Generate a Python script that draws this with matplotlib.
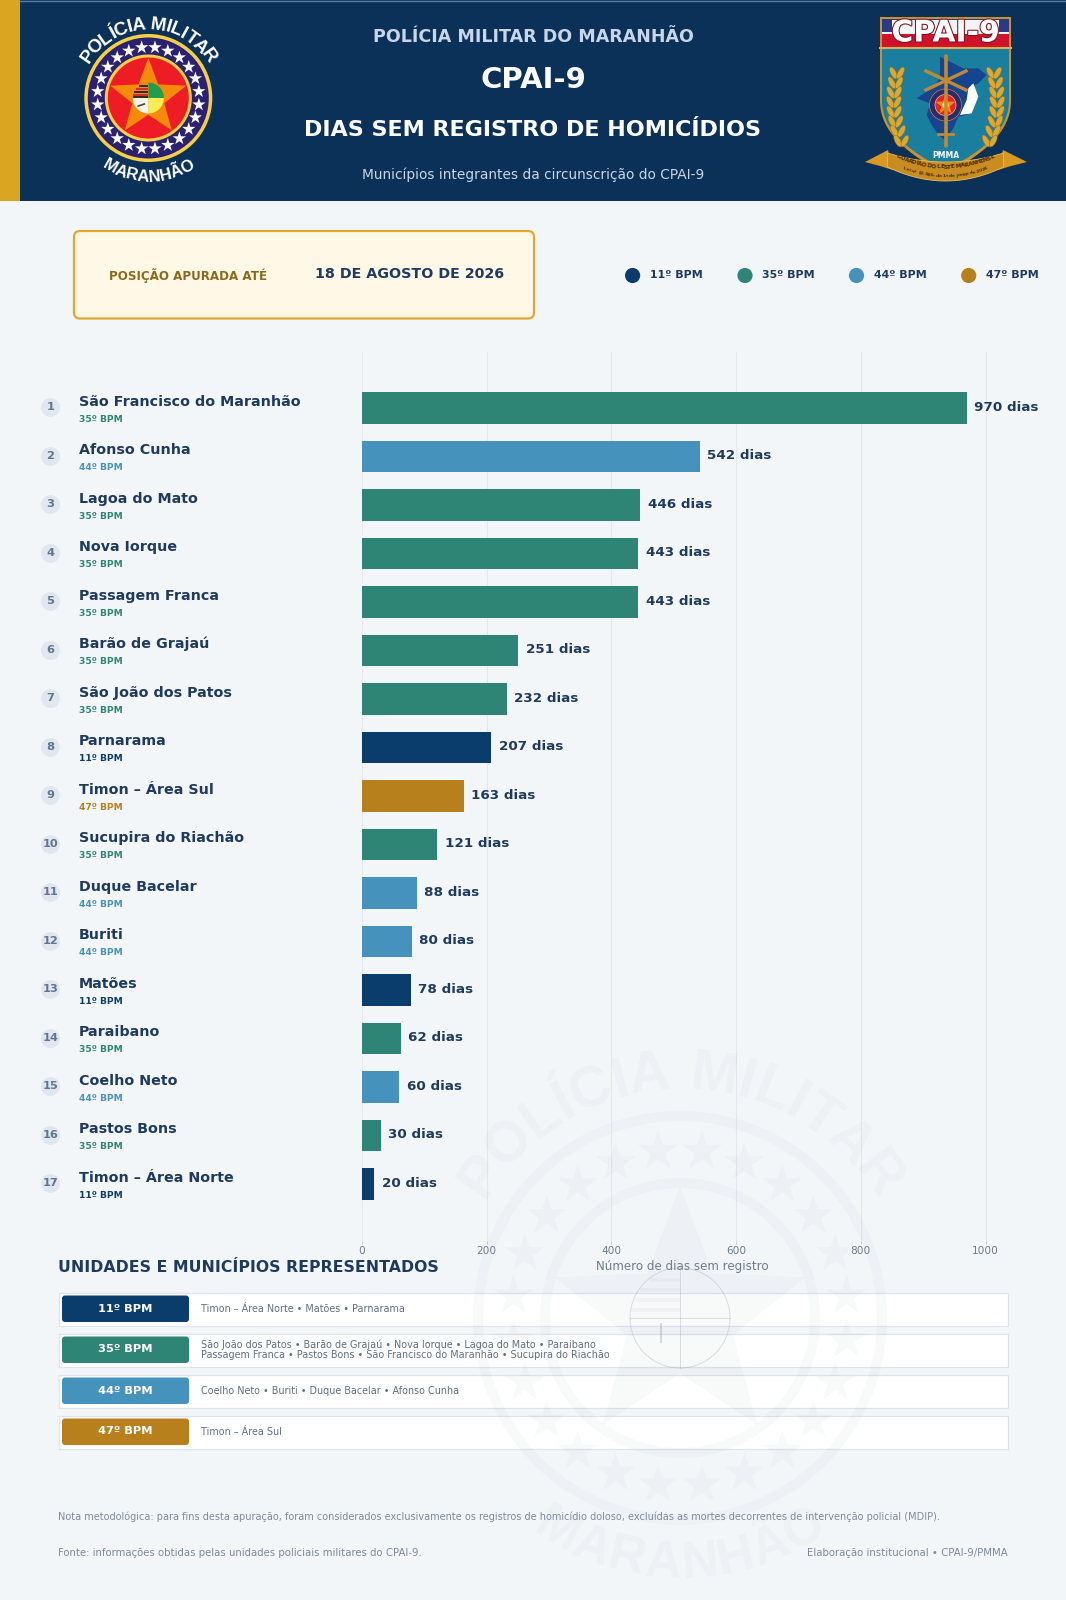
import numpy as np
import matplotlib
matplotlib.use("Agg")
import matplotlib.pyplot as plt
from matplotlib.patches import Circle, Polygon, Rectangle, FancyBboxPatch, Wedge, Ellipse
from matplotlib.font_manager import FontProperties
from matplotlib.transforms import blended_transform_factory
import matplotlib.patheffects as pe

plt.rcParams['font.family'] = ['DejaVu Sans']

# ---------- data ----------
cities = ["São Francisco do Maranhão", "Afonso Cunha", "Lagoa do Mato", "Nova Iorque",
          "Passagem Franca", "Barão de Grajaú", "São João dos Patos", "Parnarama",
          "Timon – Área Sul", "Sucupira do Riachão", "Duque Bacelar", "Buriti",
          "Matões", "Paraibano", "Coelho Neto", "Pastos Bons", "Timon – Área Norte"]
days = [970, 542, 446, 443, 443, 251, 232, 207, 163, 121, 88, 80, 78, 62, 60, 30, 20]
units = ["35º BPM", "44º BPM", "35º BPM", "35º BPM", "35º BPM", "35º BPM", "35º BPM", "11º BPM",
         "47º BPM", "35º BPM", "44º BPM", "44º BPM", "11º BPM", "35º BPM", "44º BPM", "35º BPM", "11º BPM"]
unit_names = ["11º BPM", "35º BPM", "44º BPM", "47º BPM"]
unit_colors = ["#0a3d6b", "#2e8575", "#4593bd", "#b8801c"]
unit_towns = ["Timon – Área Norte • Matões • Parnarama",
              "São João dos Patos • Barão de Grajaú • Nova Iorque • Lagoa do Mato • Paraibano\n"
              "Passagem Franca • Pastos Bons • São Francisco do Maranhão • Sucupira do Riachão",
              "Coelho Neto • Buriti • Duque Bacelar • Afonso Cunha",
              "Timon – Área Sul"]
x_ticks = [0, 200, 400, 600, 800, 1000]

W, H = 1066, 1600
BG = "#f3f6f9"
NAVY = "#0b3159"
INK = "#1f3a5f"
GOLD = "#daa520"
color_of = dict(zip(unit_names, unit_colors))

fig = plt.figure(figsize=(W / 100, H / 100), dpi=100, facecolor=BG)


def pixel_axes(z):
    a = fig.add_axes([0, 0, 1, 1], zorder=z)
    a.set_xlim(0, W)
    a.set_ylim(H, 0)
    a.axis("off")
    a.patch.set_alpha(0)
    return a


bg = pixel_axes(0)
wm = pixel_axes(5)
renderer = fig.canvas.get_renderer()


def star(a, cx, cy, R, r_ratio=0.382, rot=0.0, **kw):
    ang = np.deg2rad(-90 + rot + np.arange(10) * 36)
    rad = np.where(np.arange(10) % 2 == 0, R, R * r_ratio)
    a.add_patch(Polygon(np.c_[cx + rad * np.cos(ang), cy + rad * np.sin(ang)], closed=True, **kw))


def arc_text(a, s, cx, cy, R, half, fs, top=True, family="DejaVu Sans", **kw):
    fp = FontProperties(family=family, size=fs, weight=kw.get("weight", "normal"))
    adv = []
    for c in s:
        if c == " ":
            adv.append(0.55 * renderer.get_text_width_height_descent("n", fp, False)[0])
        else:
            adv.append(renderer.get_text_width_height_descent(c, fp, False)[0] + 0.06 * fs)
    adv = np.array(adv, dtype=float)
    pos = (np.cumsum(adv) - adv / 2) / adv.sum()
    for c, p in zip(s, pos):
        if c == " ":
            continue
        if top:
            th = 90 + half - 2 * half * p
            rot = th - 90
        else:
            th = 270 - half + 2 * half * p
            rot = th - 270
        t = np.deg2rad(th)
        a.text(cx + R * np.cos(t), cy - R * np.sin(t), c, fontsize=fs, rotation=rot, family=family,
               rotation_mode="anchor", ha="center", va="center", **kw)


def ring(a, cx, cy, r_out, r_in, **kw):
    a.add_patch(Wedge((cx, cy), r_out, 0, 360, width=r_out - r_in, **kw))


def quadrant(a, cx, cy, r, t1, t2, **kw):
    # angles measured on screen, counter-clockwise from east
    t = np.deg2rad(np.linspace(t1, t2, 30))
    pts = np.r_[[[cx, cy]], np.c_[cx + r * np.cos(t), cy - r * np.sin(t)]]
    a.add_patch(Polygon(pts, closed=True, **kw))


def emblem_colour(a, cx, cy):
    a.add_patch(Circle((cx, cy), 64, fc="#f6cf45", ec="none"))
    a.add_patch(Circle((cx, cy), 60.5, fc="#2a2270", ec="none"))
    for k in range(24):
        t = np.deg2rad(7.5 + k * 15)
        star(a, cx + 51 * np.cos(t), cy + 51 * np.sin(t), 7.0, fc="white", ec="none")
    a.add_patch(Circle((cx, cy), 43.5, fc="#f6cf45", ec="none"))
    a.add_patch(Circle((cx, cy), 40.5, fc="#ee1c25", ec="none"))
    star(a, cx, cy, 40, r_ratio=0.42, fc="#f58a0b", ec="none")
    r = 15.5
    quadrant(a, cx, cy, r, 0, 90, fc="#1f9e4b", ec="none")
    quadrant(a, cx, cy, r, 270, 360, fc="#f7ee55", ec="none")
    quadrant(a, cx, cy, r, 180, 270, fc="#f7f3e6", ec="none")
    quadrant(a, cx, cy, r, 90, 180, fc="#e8891e", ec="none")
    for dy, col in zip([12.5, 9.5, 6.5, 3.5, 1], ["#222222", "#d3262b", "#222222", "#d3262b", "#222222"]):
        half = np.sqrt(max(r * r - dy * dy, 0))
        a.plot([cx - half, cx], [cy - dy, cy - dy], color=col, lw=1.3, solid_capstyle="butt")
    a.plot([cx - 10, cx - 4], [cy + 8, cy + 6], color="#444444", lw=1.2)
    arc_text(a, "POLÍCIA MILITAR", cx, cy, 73, 60, 13.5, top=True, family="Liberation Sans", color="white", weight="bold")
    arc_text(a, "MARANHÃO", cx, cy, 79, 34, 12, top=False, family="Liberation Sans", color="white", weight="bold")


def emblem_ghost(a, cx, cy):
    c = "#8f9aa6"
    al = 0.06
    ring(a, cx, cy, 207, 197, fc=c, ec="none", alpha=al)
    ring(a, cx, cy, 140, 130, fc=c, ec="none", alpha=al)
    for k in range(24):
        t = np.deg2rad(7.5 + k * 15)
        star(a, cx + 168 * np.cos(t), cy + 168 * np.sin(t), 21, fc=c, ec="none", alpha=al)
    star(a, cx, cy, 132, r_ratio=0.42, fc=c, ec="none", alpha=al)
    r = 50
    a.add_patch(Circle((cx, cy), r, fc="none", ec=c, lw=0.7, alpha=0.3))
    a.plot([cx, cx], [cy - r, cy + r], color=c, lw=0.7, alpha=0.3)
    a.plot([cx - r, cx + r], [cy, cy], color=c, lw=0.7, alpha=0.3)
    for dy in [40, 30, 20, 10]:
        half = np.sqrt(r * r - dy * dy)
        a.add_patch(Rectangle((cx - half, cy - dy), half, 4, fc=c, ec="none", alpha=0.07))
    a.plot([cx - 19, cx - 19], [cy + 6, cy + 24], color=c, lw=1.4, alpha=0.35)
    arc_text(a, "POLÍCIA MILITAR", cx, cy, 244, 59, 41, top=True, family="Liberation Sans", color=c, alpha=0.06, weight="bold")
    arc_text(a, "MARANHÃO", cx, cy, 246, 35, 37, top=False, family="Liberation Sans", color=c, alpha=0.06, weight="bold")


def shield(a):
    L, Rr, T = 880, 1011, 17
    mid = (L + Rr) / 2
    t = np.linspace(0, 1, 30)
    right = np.c_[Rr - (Rr - mid) * t ** 2.2, 100 + (174 - 100) * t]
    left = right[::-1].copy()
    left[:, 0] = 2 * mid - left[:, 0]
    pts = np.r_[[[L, T], [Rr, T]], right, left]
    a.add_patch(Polygon(pts, closed=True, fc="#c9922e", ec="none"))
    k = 2.0
    right2 = np.c_[Rr - k - (Rr - k - mid) * t ** 2.2, 100 + (170 - 100) * t]
    left2 = right2[::-1].copy()
    left2[:, 0] = 2 * mid - left2[:, 0]
    a.add_patch(Polygon(np.r_[[[L + k, T + k], [Rr - k, T + k]], right2, left2], closed=True,
                        fc="#1a7f9f", ec="none"))
    a.add_patch(Rectangle((L + k, T + k), Rr - L - 2 * k, 15, fc="#2b3a86", ec="none"))
    a.add_patch(Rectangle((L + k, T + 15), Rr - L - 2 * k, 2.5, fc="#f4f4f4", ec="none"))
    a.add_patch(Rectangle((L + k, T + 17), Rr - L - 2 * k, 13, fc="#d0122a", ec="none"))
    a.add_patch(Rectangle((L + k + 10, T + 3), Rr - L - 2 * k - 20, 14, fc="#f4f4f4", ec="none"))
    a.plot([L, Rr], [T + 30.5, T + 30.5], color="#e0b050", lw=1.5)
    a.text(mid, T + 16, "CPAI-9", color="white", fontsize=21.5, fontweight="bold", ha="center", va="center",
           path_effects=[pe.withStroke(linewidth=1.5, foreground="#7a1020")])
    # state map
    mp = np.array([[270, 170], [340, 205], [385, 205], [410, 225], [385, 250], [360, 265], [385, 290],
                   [350, 345], [325, 350], [310, 385], [285, 420], [265, 405], [245, 375], [230, 345],
                   [240, 310], [200, 295], [250, 260], [270, 235]], dtype=float)
    a.add_patch(Polygon(np.c_[850 + mp[:, 0] / 3, mp[:, 1] / 3], closed=True, fc="#16448f", ec="none"))
    wh = np.array([[370, 250], [385, 290], [365, 340], [330, 345], [350, 300], [355, 265]], dtype=float)
    a.add_patch(Polygon(np.c_[850 + wh[:, 0] / 3, wh[:, 1] / 3], closed=True, fc="white", ec="none"))
    gold = "#c08a35"
    a.plot([945.5, 945.5], [56, 146], color=gold, lw=2.6, solid_capstyle="round")
    a.plot([938, 953], [134, 134], color=gold, lw=2)
    a.plot([926, 966], [71, 90], color=gold, lw=2.4)
    a.plot([966, 926], [71, 90], color=gold, lw=2.4)
    a.add_patch(Circle((945.5, 105), 16, fc="#2b2a70", ec="#c08a35", lw=0.5))
    a.add_patch(Circle((945.5, 105), 10.5, fc="#e8202a", ec="#f0d060", lw=0.5))
    star(a, 945.5, 105, 10.5, r_ratio=0.42, fc="#f58a0b", ec="none")
    a.add_patch(Circle((945.5, 105), 3.2, fc="#dfe9a0", ec="none"))
    # laurels
    for sgn in (-1, 1):
        for j in range(8):
            f = j / 7
            yy = 72 + 68 * f
            xx = 945.5 + sgn * (48.5 + 8 * np.sin(np.pi * f * 0.8) - 9 * f)
            for side in (-1, 1):
                a.add_patch(Ellipse((xx + side * 3.6, yy + 1), 5.5, 13,
                                    angle=side * 28, fc="#dca832", ec="#8f6a1c", lw=0.3))
    # ribbon
    rt = np.linspace(-1, 1, 40)
    a.add_patch(Polygon([[865, 162], [888, 150], [893, 170], [880, 166]], closed=True, fc="#d89a22", ec="none"))
    a.add_patch(Polygon([[1027, 162], [1003, 150], [998, 170], [1011, 166]], closed=True, fc="#d89a22", ec="none"))
    xs = 945.5 + 58 * rt
    up = 153 + 9 * (1 - rt ** 2)
    lo = 167 + 14 * (1 - rt ** 2)
    a.add_patch(Polygon(np.r_[np.c_[xs, up], np.c_[xs[::-1], lo[::-1]]], closed=True, fc="#c98c20",
                        ec="#e7bd5a", lw=0.6))
    a.text(946, 156, "PMMA", color="white", fontsize=5.5, fontweight="bold", ha="center", va="center")
    arc_text(a, "GUARDIÃO DO LESTE MARANHENSE", 945.5, 52, 115, 25, 4.2, top=False, color="#4a2c06", weight="bold")
    arc_text(a, "Lei nº 12.885, de 1º de junho de 2026", 945.5, 59, 117, 21, 3.2, top=False, color="#4a2c06", weight="bold")


# ---------- header ----------
bg.add_patch(Rectangle((0, 0), W, 200.5, fc=NAVY, ec="none"))
bg.add_patch(Rectangle((0, 0), 20, 200.5, fc=GOLD, ec="none"))
bg.plot([20, W], [0.5, 0.5], color="#5b7ea3", lw=1)
hx = 533
bg.text(hx, 36.5, "POLÍCIA MILITAR DO MARANHÃO", color="#c8d6e8", fontsize=12.6, fontweight="bold", ha="center", va="center")
bg.text(hx, 79.5, "CPAI-9", color="white", fontsize=21, fontweight="bold", ha="center", va="center")
bg.text(hx, 130, "DIAS SEM REGISTRO DE HOMICÍDIOS", color="white", fontsize=16, fontweight="bold", ha="center", va="center")
bg.text(hx, 175, "Municípios integrantes da circunscrição do CPAI-9", color="#c8d6e8", fontsize=9.95, ha="center", va="center")
emblem_colour(bg, 148.3, 98)
shield(bg)

# ---------- date card and legend ----------
bg.add_patch(FancyBboxPatch((74, 231), 460, 87.5, boxstyle="round,pad=0,rounding_size=6",
                            fc="#fff8e7", ec="#e0a92e", lw=1.6))
bg.text(188.5, 275.5, "POSIÇÃO APURADA ATÉ", color="#8a6a1a", fontsize=8.6, fontweight="bold", ha="center", va="center")
bg.text(410, 274.5, "18 DE AGOSTO DE 2026", color=INK, fontsize=10.25, fontweight="bold", ha="center", va="center")
for name, col, lx in zip(unit_names, unit_colors, [632.6, 745, 856.5, 968.7]):
    bg.add_patch(Circle((lx, 275.5), 7.6, fc=col, ec="none"))
    bg.text(lx + 17.5, 275, name, color=INK, fontsize=7.95, fontweight="bold", ha="left", va="center")

# ---------- chart ----------
X0, PX_UNIT = 362.0, 0.6235
AX_T, AX_B = 352, 1241
ax_w = 640
ax = fig.add_axes([X0 / W, 1 - AX_B / H, ax_w / W, (AX_B - AX_T) / H], zorder=2)
ax.patch.set_alpha(0)
y = np.arange(len(cities))
ax.barh(y, days, height=0.64, color=[color_of[u] for u in units], zorder=3)
ax.set_xlim(0, ax_w / PX_UNIT)
ax.set_ylim((AX_B - 408) / 48.5, (AX_T - 408) / 48.5)
ax.set_yticks([])
ax.set_xticks(x_ticks)
ax.grid(axis="x", color="#e4e8ee", lw=0.8, zorder=0)
for s in ax.spines.values():
    s.set_visible(False)
ax.tick_params(axis="x", length=2.4, width=0.7, color="#c4ccd6", labelcolor="#6b7c8f", labelsize=7.6, pad=1.5)
ax.set_xlabel("Número de dias sem registro", color="#6b7c8f", fontsize=8.55, labelpad=2.5)
blend = blended_transform_factory(bg.transData, ax.transData)
for i, (c, d, u) in enumerate(zip(cities, days, units)):
    ax.text(d + 12, i - 0.02, f"{d} dias", color=INK, fontsize=9.7, fontweight="bold", va="center", ha="left", zorder=4)
    ax.text(79, i - 0.13, c, transform=blend, color=INK, fontsize=10.25, fontweight="bold", va="center", ha="left", clip_on=False)
    ax.text(79, i + 0.23, u, transform=blend, color=color_of[u], fontsize=6.6, fontweight="bold", va="center", ha="left", clip_on=False)
    ax.scatter([50.3], [i - 0.02], s=185, transform=blend, color="#e1e7ef", linewidths=0, clip_on=False, zorder=2)
    ax.text(50.3, i - 0.02, str(i + 1), transform=blend, color="#5f7690", fontsize=8.2, fontweight="bold", va="center", ha="center", clip_on=False, zorder=4)

# ---------- units section ----------
bg.text(58.5, 1267.5, "UNIDADES E MUNICÍPIOS REPRESENTADOS", color=INK, fontsize=11.3, fontweight="bold", va="center", ha="left")
for k, (name, col, towns) in enumerate(zip(unit_names, unit_colors, unit_towns)):
    top = 1292.5 + k * 41
    bg.add_patch(Rectangle((58.5, top), 949, 33.5, fc="white", ec="#dfe4ea", lw=0.9))
    bg.add_patch(FancyBboxPatch((62, top + 3), 127, 26.5, boxstyle="round,pad=0,rounding_size=3", fc=col, ec="none"))
    bg.text(125.5, top + 16, name, color="white", fontsize=8.2, fontweight="bold", ha="center", va="center")
    bg.text(201, top + 16.5, towns, color="#5f6f80", fontsize=6.95, ha="left", va="center", linespacing=1.0)

# ---------- footer ----------
FOOT = "#7a8aa0"
bg.text(58.5, 1517, "Nota metodológica: para fins desta apuração, foram considerados exclusivamente os registros de homicídio doloso, "
        "excluídas as mortes decorrentes de intervenção policial (MDIP).", color=FOOT, fontsize=7.0, ha="left", va="center")
bg.text(58.5, 1553, "Fonte: informações obtidas pelas unidades policiais militares do CPAI-9.", color=FOOT, fontsize=7.3, ha="left", va="center")
bg.text(1007.5, 1553, "Elaboração institucional • CPAI-9/PMMA", color=FOOT, fontsize=7.25, ha="right", va="center")

emblem_ghost(wm, 680, 1318)

fig.savefig("out.png", dpi=100, facecolor=BG)
